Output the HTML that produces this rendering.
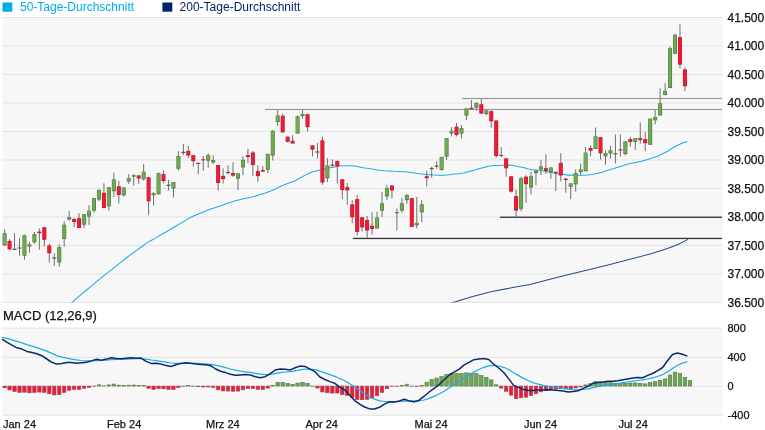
<!DOCTYPE html><html><head><meta charset="utf-8"><style>html,body{margin:0;padding:0;background:#fff;width:765px;height:430px;overflow:hidden}svg{display:block}text{font-family:"Liberation Sans",sans-serif;stroke:currentColor;stroke-width:0}svg{will-change:transform}</style></head><body>
<svg width="765" height="430" viewBox="0 0 765 430">
<defs><clipPath id="cm"><rect x="2" y="17" width="720" height="285.5"/></clipPath><clipPath id="cd"><rect x="2" y="328" width="720" height="87.5"/></clipPath></defs>
<rect x="2.5" y="2.5" width="9.8" height="9.2" fill="#00abea"/>
<text x="20" y="10.8" font-size="12" fill="#00abea">50-Tage-Durchschnitt</text>
<rect x="162.4" y="2.5" width="9.9" height="9.2" fill="#002468"/>
<text x="179.6" y="10.8" font-size="12" fill="#002468">200-Tage-Durchschnitt</text>
<rect x="2.4" y="17" width="720.2" height="285.5" fill="#f7f7f7"/>
<rect x="2.4" y="16.90" width="720.2" height="1.1" fill="#e4e4e4"/>
<text x="727.5" y="21.80" font-size="12" fill="#111" style="stroke:#111;stroke-width:0.25">41.500</text>
<rect x="2.4" y="45.40" width="720.2" height="1.1" fill="#e4e4e4"/>
<text x="727.5" y="50.30" font-size="12" fill="#111" style="stroke:#111;stroke-width:0.25">41.000</text>
<rect x="2.4" y="73.90" width="720.2" height="1.1" fill="#e4e4e4"/>
<text x="727.5" y="78.80" font-size="12" fill="#111" style="stroke:#111;stroke-width:0.25">40.500</text>
<rect x="2.4" y="102.40" width="720.2" height="1.1" fill="#e4e4e4"/>
<text x="727.5" y="107.30" font-size="12" fill="#111" style="stroke:#111;stroke-width:0.25">40.000</text>
<rect x="2.4" y="130.90" width="720.2" height="1.1" fill="#e4e4e4"/>
<text x="727.5" y="135.80" font-size="12" fill="#111" style="stroke:#111;stroke-width:0.25">39.500</text>
<rect x="2.4" y="159.40" width="720.2" height="1.1" fill="#e4e4e4"/>
<text x="727.5" y="164.30" font-size="12" fill="#111" style="stroke:#111;stroke-width:0.25">39.000</text>
<rect x="2.4" y="187.90" width="720.2" height="1.1" fill="#e4e4e4"/>
<text x="727.5" y="192.80" font-size="12" fill="#111" style="stroke:#111;stroke-width:0.25">38.500</text>
<rect x="2.4" y="216.40" width="720.2" height="1.1" fill="#e4e4e4"/>
<text x="727.5" y="221.30" font-size="12" fill="#111" style="stroke:#111;stroke-width:0.25">38.000</text>
<rect x="2.4" y="244.90" width="720.2" height="1.1" fill="#e4e4e4"/>
<text x="727.5" y="249.80" font-size="12" fill="#111" style="stroke:#111;stroke-width:0.25">37.500</text>
<rect x="2.4" y="273.40" width="720.2" height="1.1" fill="#e4e4e4"/>
<text x="727.5" y="278.30" font-size="12" fill="#111" style="stroke:#111;stroke-width:0.25">37.000</text>
<rect x="2.4" y="301.90" width="720.2" height="1.1" fill="#e4e4e4"/>
<text x="727.5" y="306.80" font-size="12" fill="#111" style="stroke:#111;stroke-width:0.25">36.500</text>
<g clip-path="url(#cm)">
<rect x="265" y="108.9" width="457" height="1.2" fill="#9a9a9a"/>
<rect x="462" y="97.9" width="260" height="1.2" fill="#9a9a9a"/>
<rect x="353" y="237.8" width="369" height="1.3" fill="#333"/>
<rect x="500" y="216.6" width="222" height="1.3" fill="#333"/>
<polyline fill="none" stroke="#1aaee5" stroke-width="1.05" points="60.0,312.5 61.7,311.0 66.7,306.8 71.7,302.6 76.6,298.4 81.6,294.2 86.6,290.0 91.5,285.8 96.5,281.7 101.5,277.7 106.4,273.7 111.4,269.8 116.4,265.9 121.3,261.9 126.3,258.0 131.2,254.2 136.2,250.6 141.2,247.0 146.1,243.4 151.1,240.5 156.1,237.6 161.0,234.8 166.0,232.0 171.0,229.0 175.9,226.0 180.9,223.1 185.9,220.1 190.8,217.2 195.8,215.1 200.8,213.1 205.7,211.1 210.7,209.1 215.7,207.4 220.6,205.7 225.6,203.9 230.6,202.2 235.5,200.8 240.5,199.5 245.5,198.2 250.4,197.4 255.4,196.0 260.4,194.6 265.3,193.0 270.3,191.2 275.3,189.1 280.2,186.5 285.2,184.5 290.2,182.6 295.1,180.7 300.1,178.0 305.1,175.1 310.0,172.7 315.0,171.2 320.0,169.9 324.9,169.1 329.9,167.8 334.9,166.9 339.8,166.0 344.8,165.8 349.8,165.8 354.7,166.0 359.7,166.9 364.7,167.9 369.6,168.6 374.6,169.4 379.6,170.2 384.5,170.7 389.5,170.9 394.4,171.3 399.4,171.5 404.4,171.7 409.3,172.2 414.3,173.1 419.3,173.8 424.2,174.3 429.2,174.7 434.2,175.0 439.1,175.3 444.1,175.2 449.1,174.7 454.0,174.1 459.0,173.7 464.0,173.0 468.9,171.6 473.9,170.2 478.9,168.8 483.8,167.5 488.8,166.3 493.8,165.5 498.7,165.5 503.7,165.3 508.7,165.1 513.6,165.5 518.6,166.7 523.6,167.6 528.5,169.0 533.5,169.9 538.5,170.5 543.4,170.9 548.4,172.0 553.4,173.1 558.3,174.0 563.3,174.5 568.3,175.1 573.2,175.1 578.2,175.2 583.2,175.3 588.1,175.0 593.1,174.3 598.1,173.2 603.0,171.9 608.0,170.3 613.0,168.8 617.9,167.2 622.9,165.7 627.9,164.1 632.8,162.9 637.8,161.9 642.7,160.9 647.7,159.5 652.7,157.8 657.6,156.3 662.6,153.8 667.6,151.2 672.5,148.0 677.5,145.2 682.5,143.1 687.4,141.5"/>
<polyline fill="none" stroke="#2b4a8a" stroke-width="1.05" points="440.0,306.2 453.1,302.6 470.9,296.9 491.8,291.6 512.7,287.6 530.0,284.4 550.9,279.0 571.8,273.8 592.7,268.8 610.0,264.6 630.9,259.1 651.8,253.6 667.5,248.6 678.0,244.4 687.9,239.4"/>
<rect x="4.10" y="229.1" width="1" height="16.4" fill="#707070"/>
<rect x="2.60" y="233.20" width="4" height="12.30" fill="#4f7440"/>
<rect x="3.00" y="233.60" width="3.0" height="11.10" fill="#6eaa50"/>
<rect x="9.07" y="239.2" width="1" height="11.2" fill="#707070"/>
<rect x="7.57" y="240.90" width="4" height="8.40" fill="#b81a32"/>
<rect x="7.97" y="241.30" width="3.0" height="7.20" fill="#f01a35"/>
<rect x="14.03" y="233.2" width="1" height="16.4" fill="#707070"/>
<rect x="12.53" y="248.8" width="4" height="1.2" fill="#555"/>
<rect x="19.00" y="238.1" width="1" height="17.5" fill="#707070"/>
<rect x="17.50" y="247.50" width="4" height="1.10" fill="#4f7440"/>
<rect x="17.90" y="247.90" width="3.0" height="0.30" fill="#6eaa50"/>
<rect x="23.96" y="234.6" width="1" height="25.1" fill="#707070"/>
<rect x="22.46" y="235.30" width="4" height="20.30" fill="#4f7440"/>
<rect x="22.86" y="235.70" width="3.0" height="19.10" fill="#6eaa50"/>
<rect x="28.93" y="242.3" width="1" height="10.5" fill="#707070"/>
<rect x="27.43" y="244.40" width="4" height="2.10" fill="#4f7440"/>
<rect x="27.83" y="244.80" width="3.0" height="0.90" fill="#6eaa50"/>
<rect x="33.90" y="231.9" width="1" height="11.8" fill="#707070"/>
<rect x="32.40" y="234.20" width="4" height="8.10" fill="#4f7440"/>
<rect x="32.80" y="234.60" width="3.0" height="6.90" fill="#6eaa50"/>
<rect x="38.86" y="228.4" width="1" height="21.2" fill="#707070"/>
<rect x="37.36" y="231.60" width="4" height="1.60" fill="#b81a32"/>
<rect x="37.76" y="232.00" width="3.0" height="0.40" fill="#f01a35"/>
<rect x="43.83" y="227.0" width="1" height="19.5" fill="#707070"/>
<rect x="42.33" y="227.30" width="4" height="12.50" fill="#b81a32"/>
<rect x="42.73" y="227.70" width="3.0" height="11.30" fill="#f01a35"/>
<rect x="48.79" y="243.7" width="1" height="18.8" fill="#707070"/>
<rect x="47.29" y="245.50" width="4" height="7.70" fill="#b81a32"/>
<rect x="47.69" y="245.90" width="3.0" height="6.50" fill="#f01a35"/>
<rect x="53.76" y="253.2" width="1" height="12.8" fill="#707070"/>
<rect x="52.26" y="257.5" width="4" height="1.2" fill="#555"/>
<rect x="58.73" y="244.4" width="1" height="22.3" fill="#707070"/>
<rect x="57.23" y="247.20" width="4" height="15.30" fill="#4f7440"/>
<rect x="57.63" y="247.60" width="3.0" height="14.10" fill="#6eaa50"/>
<rect x="63.69" y="221.5" width="1" height="25.2" fill="#707070"/>
<rect x="62.19" y="224.70" width="4" height="14.20" fill="#4f7440"/>
<rect x="62.59" y="225.10" width="3.0" height="13.00" fill="#6eaa50"/>
<rect x="68.66" y="210.9" width="1" height="9.8" fill="#707070"/>
<rect x="67.16" y="217.10" width="4" height="2.40" fill="#4f7440"/>
<rect x="67.56" y="217.50" width="3.0" height="1.20" fill="#6eaa50"/>
<rect x="73.62" y="218.2" width="1" height="9.0" fill="#707070"/>
<rect x="72.12" y="219.00" width="4" height="3.00" fill="#b81a32"/>
<rect x="72.52" y="219.40" width="3.0" height="1.80" fill="#f01a35"/>
<rect x="78.59" y="213.3" width="1" height="14.7" fill="#707070"/>
<rect x="77.09" y="218.20" width="4" height="9.80" fill="#b81a32"/>
<rect x="77.49" y="218.60" width="3.0" height="8.60" fill="#f01a35"/>
<rect x="83.56" y="214.1" width="1" height="13.9" fill="#707070"/>
<rect x="82.06" y="214.10" width="4" height="10.60" fill="#4f7440"/>
<rect x="82.46" y="214.50" width="3.0" height="9.40" fill="#6eaa50"/>
<rect x="88.52" y="205.2" width="1" height="19.8" fill="#707070"/>
<rect x="87.02" y="210.60" width="4" height="6.00" fill="#4f7440"/>
<rect x="87.42" y="211.00" width="3.0" height="4.80" fill="#6eaa50"/>
<rect x="93.49" y="197.9" width="1" height="14.6" fill="#707070"/>
<rect x="91.99" y="198.20" width="4" height="12.40" fill="#4f7440"/>
<rect x="92.39" y="198.60" width="3.0" height="11.20" fill="#6eaa50"/>
<rect x="98.45" y="188.9" width="1" height="12.2" fill="#707070"/>
<rect x="96.95" y="190.10" width="4" height="9.40" fill="#4f7440"/>
<rect x="97.35" y="190.50" width="3.0" height="8.20" fill="#6eaa50"/>
<rect x="103.42" y="183.3" width="1" height="25.2" fill="#707070"/>
<rect x="101.92" y="192.70" width="4" height="15.30" fill="#b81a32"/>
<rect x="102.32" y="193.10" width="3.0" height="14.10" fill="#f01a35"/>
<rect x="108.39" y="186.8" width="1" height="23.8" fill="#707070"/>
<rect x="106.89" y="187.30" width="4" height="19.00" fill="#4f7440"/>
<rect x="107.29" y="187.70" width="3.0" height="17.80" fill="#6eaa50"/>
<rect x="113.35" y="172.5" width="1" height="24.4" fill="#707070"/>
<rect x="111.85" y="179.50" width="4" height="11.70" fill="#4f7440"/>
<rect x="112.25" y="179.90" width="3.0" height="10.50" fill="#6eaa50"/>
<rect x="118.32" y="180.8" width="1" height="22.7" fill="#707070"/>
<rect x="116.82" y="186.30" width="4" height="8.70" fill="#b81a32"/>
<rect x="117.22" y="186.70" width="3.0" height="7.50" fill="#f01a35"/>
<rect x="123.28" y="187.5" width="1" height="9.1" fill="#707070"/>
<rect x="121.78" y="187.50" width="4" height="7.80" fill="#4f7440"/>
<rect x="122.18" y="187.90" width="3.0" height="6.60" fill="#6eaa50"/>
<rect x="128.25" y="174.1" width="1" height="9.8" fill="#707070"/>
<rect x="126.75" y="178.20" width="4" height="3.30" fill="#4f7440"/>
<rect x="127.15" y="178.60" width="3.0" height="2.10" fill="#6eaa50"/>
<rect x="133.22" y="174.1" width="1" height="11.4" fill="#707070"/>
<rect x="131.72" y="175.30" width="4" height="1.30" fill="#4f7440"/>
<rect x="132.12" y="175.70" width="3.0" height="0.30" fill="#6eaa50"/>
<rect x="138.18" y="175.4" width="1" height="8.5" fill="#707070"/>
<rect x="136.68" y="175.40" width="4" height="3.10" fill="#b81a32"/>
<rect x="137.08" y="175.80" width="3.0" height="1.90" fill="#f01a35"/>
<rect x="143.15" y="164.1" width="1" height="16.4" fill="#707070"/>
<rect x="141.65" y="171.70" width="4" height="7.60" fill="#4f7440"/>
<rect x="142.05" y="172.10" width="3.0" height="6.40" fill="#6eaa50"/>
<rect x="148.11" y="177.1" width="1" height="37.7" fill="#707070"/>
<rect x="146.61" y="177.30" width="4" height="24.00" fill="#b81a32"/>
<rect x="147.01" y="177.70" width="3.0" height="22.80" fill="#f01a35"/>
<rect x="153.08" y="192.1" width="1" height="13.4" fill="#707070"/>
<rect x="151.58" y="193.30" width="4" height="2.00" fill="#4f7440"/>
<rect x="151.98" y="193.70" width="3.0" height="0.80" fill="#6eaa50"/>
<rect x="158.05" y="172.5" width="1" height="22.0" fill="#707070"/>
<rect x="156.55" y="173.10" width="4" height="21.10" fill="#4f7440"/>
<rect x="156.95" y="173.50" width="3.0" height="19.90" fill="#6eaa50"/>
<rect x="163.01" y="170.1" width="1" height="13.2" fill="#707070"/>
<rect x="161.51" y="174.10" width="4" height="6.90" fill="#b81a32"/>
<rect x="161.91" y="174.50" width="3.0" height="5.70" fill="#f01a35"/>
<rect x="167.98" y="179.8" width="1" height="10.6" fill="#707070"/>
<rect x="166.48" y="184.7" width="4" height="1.2" fill="#555"/>
<rect x="172.94" y="182.0" width="1" height="15.5" fill="#707070"/>
<rect x="171.44" y="182.00" width="4" height="6.50" fill="#4f7440"/>
<rect x="171.84" y="182.40" width="3.0" height="5.30" fill="#6eaa50"/>
<rect x="177.91" y="151.1" width="1" height="19.6" fill="#707070"/>
<rect x="176.41" y="156.00" width="4" height="12.70" fill="#4f7440"/>
<rect x="176.81" y="156.40" width="3.0" height="11.50" fill="#6eaa50"/>
<rect x="182.88" y="143.8" width="1" height="11.4" fill="#707070"/>
<rect x="181.38" y="151.8" width="4" height="1.2" fill="#555"/>
<rect x="187.84" y="145.9" width="1" height="12.1" fill="#707070"/>
<rect x="186.34" y="150.80" width="4" height="4.70" fill="#b81a32"/>
<rect x="186.74" y="151.20" width="3.0" height="3.50" fill="#f01a35"/>
<rect x="192.81" y="155.2" width="1" height="11.4" fill="#707070"/>
<rect x="191.31" y="155.20" width="4" height="6.00" fill="#b81a32"/>
<rect x="191.71" y="155.60" width="3.0" height="4.80" fill="#f01a35"/>
<rect x="197.77" y="162.5" width="1" height="11.7" fill="#707070"/>
<rect x="196.27" y="162.8" width="4" height="1.2" fill="#555"/>
<rect x="202.74" y="156.0" width="1" height="14.7" fill="#707070"/>
<rect x="201.24" y="159.30" width="4" height="1.00" fill="#b81a32"/>
<rect x="201.64" y="159.70" width="3.0" height="0.30" fill="#f01a35"/>
<rect x="207.71" y="153.3" width="1" height="14.4" fill="#707070"/>
<rect x="206.21" y="155.20" width="4" height="5.40" fill="#4f7440"/>
<rect x="206.61" y="155.60" width="3.0" height="4.20" fill="#6eaa50"/>
<rect x="212.67" y="155.2" width="1" height="8.9" fill="#707070"/>
<rect x="211.17" y="160.10" width="4" height="2.40" fill="#4f7440"/>
<rect x="211.57" y="160.50" width="3.0" height="1.20" fill="#6eaa50"/>
<rect x="217.64" y="165.0" width="1" height="25.5" fill="#707070"/>
<rect x="216.14" y="165.00" width="4" height="18.00" fill="#b81a32"/>
<rect x="216.54" y="165.40" width="3.0" height="16.80" fill="#f01a35"/>
<rect x="222.60" y="168.5" width="1" height="15.1" fill="#707070"/>
<rect x="221.10" y="175.90" width="4" height="3.20" fill="#b81a32"/>
<rect x="221.50" y="176.30" width="3.0" height="2.00" fill="#f01a35"/>
<rect x="227.57" y="165.5" width="1" height="8.8" fill="#707070"/>
<rect x="226.07" y="171.9" width="4" height="1.2" fill="#555"/>
<rect x="232.54" y="162.2" width="1" height="14.5" fill="#707070"/>
<rect x="231.04" y="173.00" width="4" height="2.60" fill="#b81a32"/>
<rect x="231.44" y="173.40" width="3.0" height="1.40" fill="#f01a35"/>
<rect x="237.50" y="173.4" width="1" height="16.6" fill="#707070"/>
<rect x="236.00" y="173.40" width="4" height="5.20" fill="#4f7440"/>
<rect x="236.40" y="173.80" width="3.0" height="4.00" fill="#6eaa50"/>
<rect x="242.47" y="156.2" width="1" height="19.0" fill="#707070"/>
<rect x="240.97" y="159.90" width="4" height="7.50" fill="#4f7440"/>
<rect x="241.37" y="160.30" width="3.0" height="6.30" fill="#6eaa50"/>
<rect x="247.43" y="148.8" width="1" height="14.3" fill="#707070"/>
<rect x="245.93" y="155.10" width="4" height="1.90" fill="#b81a32"/>
<rect x="246.33" y="155.50" width="3.0" height="0.70" fill="#f01a35"/>
<rect x="252.40" y="151.0" width="1" height="25.1" fill="#707070"/>
<rect x="250.90" y="152.50" width="4" height="12.50" fill="#b81a32"/>
<rect x="251.30" y="152.90" width="3.0" height="11.30" fill="#f01a35"/>
<rect x="257.37" y="165.0" width="1" height="16.7" fill="#707070"/>
<rect x="255.87" y="171.10" width="4" height="5.00" fill="#b81a32"/>
<rect x="256.27" y="171.50" width="3.0" height="3.80" fill="#f01a35"/>
<rect x="262.33" y="165.9" width="1" height="6.1" fill="#707070"/>
<rect x="260.83" y="170.00" width="4" height="1.50" fill="#b81a32"/>
<rect x="261.23" y="170.40" width="3.0" height="0.30" fill="#f01a35"/>
<rect x="267.30" y="153.8" width="1" height="19.2" fill="#707070"/>
<rect x="265.80" y="153.80" width="4" height="15.80" fill="#4f7440"/>
<rect x="266.20" y="154.20" width="3.0" height="14.60" fill="#6eaa50"/>
<rect x="272.26" y="130.1" width="1" height="30.4" fill="#707070"/>
<rect x="270.76" y="130.80" width="4" height="24.70" fill="#4f7440"/>
<rect x="271.16" y="131.20" width="3.0" height="23.50" fill="#6eaa50"/>
<rect x="277.23" y="110.0" width="1" height="16.1" fill="#707070"/>
<rect x="275.73" y="115.50" width="4" height="6.50" fill="#4f7440"/>
<rect x="276.13" y="115.90" width="3.0" height="5.30" fill="#6eaa50"/>
<rect x="282.20" y="113.6" width="1" height="18.8" fill="#707070"/>
<rect x="280.70" y="115.70" width="4" height="16.70" fill="#b81a32"/>
<rect x="281.10" y="116.10" width="3.0" height="15.50" fill="#f01a35"/>
<rect x="287.16" y="136.6" width="1" height="5.8" fill="#707070"/>
<rect x="285.66" y="136.60" width="4" height="5.20" fill="#b81a32"/>
<rect x="286.06" y="137.00" width="3.0" height="4.00" fill="#f01a35"/>
<rect x="292.13" y="135.1" width="1" height="8.4" fill="#707070"/>
<rect x="290.63" y="140.80" width="4" height="2.70" fill="#b81a32"/>
<rect x="291.03" y="141.20" width="3.0" height="1.50" fill="#f01a35"/>
<rect x="297.09" y="115.7" width="1" height="17.8" fill="#707070"/>
<rect x="295.59" y="116.30" width="4" height="17.20" fill="#4f7440"/>
<rect x="295.99" y="116.70" width="3.0" height="16.00" fill="#6eaa50"/>
<rect x="302.06" y="110.0" width="1" height="8.8" fill="#707070"/>
<rect x="300.56" y="114.00" width="4" height="2.10" fill="#4f7440"/>
<rect x="300.96" y="114.40" width="3.0" height="0.90" fill="#6eaa50"/>
<rect x="307.03" y="114.2" width="1" height="17.2" fill="#707070"/>
<rect x="305.53" y="114.20" width="4" height="13.00" fill="#b81a32"/>
<rect x="305.93" y="114.60" width="3.0" height="11.80" fill="#f01a35"/>
<rect x="311.99" y="145.4" width="1" height="11.0" fill="#707070"/>
<rect x="310.49" y="145.40" width="4" height="4.20" fill="#b81a32"/>
<rect x="310.89" y="145.80" width="3.0" height="3.00" fill="#f01a35"/>
<rect x="316.96" y="142.9" width="1" height="15.6" fill="#707070"/>
<rect x="315.46" y="151.4" width="4" height="1.2" fill="#555"/>
<rect x="321.92" y="136.6" width="1" height="48.1" fill="#707070"/>
<rect x="320.42" y="140.40" width="4" height="42.10" fill="#b81a32"/>
<rect x="320.82" y="140.80" width="3.0" height="40.90" fill="#f01a35"/>
<rect x="326.89" y="158.3" width="1" height="23.7" fill="#707070"/>
<rect x="325.39" y="165.50" width="4" height="12.80" fill="#4f7440"/>
<rect x="325.79" y="165.90" width="3.0" height="11.60" fill="#6eaa50"/>
<rect x="331.86" y="159.4" width="1" height="7.3" fill="#707070"/>
<rect x="330.36" y="164.60" width="4" height="1.10" fill="#b81a32"/>
<rect x="330.76" y="165.00" width="3.0" height="0.30" fill="#f01a35"/>
<rect x="336.82" y="160.9" width="1" height="22.6" fill="#707070"/>
<rect x="335.32" y="160.90" width="4" height="5.40" fill="#b81a32"/>
<rect x="335.72" y="161.30" width="3.0" height="4.20" fill="#f01a35"/>
<rect x="341.79" y="179.3" width="1" height="19.8" fill="#707070"/>
<rect x="340.29" y="179.30" width="4" height="10.80" fill="#b81a32"/>
<rect x="340.69" y="179.70" width="3.0" height="9.60" fill="#f01a35"/>
<rect x="346.75" y="183.0" width="1" height="21.8" fill="#707070"/>
<rect x="345.25" y="187.20" width="4" height="3.20" fill="#b81a32"/>
<rect x="345.65" y="187.60" width="3.0" height="2.00" fill="#f01a35"/>
<rect x="351.72" y="200.2" width="1" height="23.0" fill="#707070"/>
<rect x="350.22" y="204.40" width="4" height="12.90" fill="#b81a32"/>
<rect x="350.62" y="204.80" width="3.0" height="11.70" fill="#f01a35"/>
<rect x="356.69" y="195.0" width="1" height="40.7" fill="#707070"/>
<rect x="355.19" y="199.10" width="4" height="32.90" fill="#b81a32"/>
<rect x="355.59" y="199.50" width="3.0" height="31.70" fill="#f01a35"/>
<rect x="361.65" y="217.3" width="1" height="14.2" fill="#707070"/>
<rect x="360.15" y="217.30" width="4" height="10.10" fill="#b81a32"/>
<rect x="360.55" y="217.70" width="3.0" height="8.90" fill="#f01a35"/>
<rect x="366.62" y="215.9" width="1" height="21.9" fill="#707070"/>
<rect x="365.12" y="220.00" width="4" height="10.50" fill="#b81a32"/>
<rect x="365.52" y="220.40" width="3.0" height="9.30" fill="#f01a35"/>
<rect x="371.58" y="212.3" width="1" height="22.4" fill="#707070"/>
<rect x="370.08" y="225.70" width="4" height="3.30" fill="#b81a32"/>
<rect x="370.48" y="226.10" width="3.0" height="2.10" fill="#f01a35"/>
<rect x="376.55" y="211.7" width="1" height="16.7" fill="#707070"/>
<rect x="375.05" y="217.50" width="4" height="10.90" fill="#4f7440"/>
<rect x="375.45" y="217.90" width="3.0" height="9.70" fill="#6eaa50"/>
<rect x="381.52" y="191.8" width="1" height="25.1" fill="#707070"/>
<rect x="380.02" y="203.30" width="4" height="7.30" fill="#4f7440"/>
<rect x="380.42" y="203.70" width="3.0" height="6.10" fill="#6eaa50"/>
<rect x="386.48" y="185.1" width="1" height="14.7" fill="#707070"/>
<rect x="384.98" y="188.00" width="4" height="8.40" fill="#4f7440"/>
<rect x="385.38" y="188.40" width="3.0" height="7.20" fill="#6eaa50"/>
<rect x="391.45" y="185.5" width="1" height="13.0" fill="#707070"/>
<rect x="389.95" y="185.50" width="4" height="4.90" fill="#b81a32"/>
<rect x="390.35" y="185.90" width="3.0" height="3.70" fill="#f01a35"/>
<rect x="396.41" y="208.5" width="1" height="22.0" fill="#707070"/>
<rect x="394.91" y="212.10" width="4" height="1.20" fill="#4f7440"/>
<rect x="395.31" y="212.50" width="3.0" height="0.30" fill="#6eaa50"/>
<rect x="401.38" y="198.1" width="1" height="14.6" fill="#707070"/>
<rect x="399.88" y="203.30" width="4" height="7.30" fill="#4f7440"/>
<rect x="400.28" y="203.70" width="3.0" height="6.10" fill="#6eaa50"/>
<rect x="406.35" y="193.9" width="1" height="10.0" fill="#707070"/>
<rect x="404.85" y="195.00" width="4" height="5.20" fill="#4f7440"/>
<rect x="405.25" y="195.40" width="3.0" height="4.00" fill="#6eaa50"/>
<rect x="411.31" y="198.1" width="1" height="28.8" fill="#707070"/>
<rect x="409.81" y="198.10" width="4" height="28.80" fill="#b81a32"/>
<rect x="410.21" y="198.50" width="3.0" height="27.60" fill="#f01a35"/>
<rect x="416.28" y="197.0" width="1" height="31.4" fill="#707070"/>
<rect x="414.78" y="222.80" width="4" height="2.50" fill="#4f7440"/>
<rect x="415.18" y="223.20" width="3.0" height="1.30" fill="#6eaa50"/>
<rect x="421.24" y="200.2" width="1" height="21.9" fill="#707070"/>
<rect x="419.74" y="204.40" width="4" height="7.90" fill="#4f7440"/>
<rect x="420.14" y="204.80" width="3.0" height="6.70" fill="#6eaa50"/>
<rect x="426.21" y="170.9" width="1" height="15.7" fill="#707070"/>
<rect x="424.71" y="176.30" width="4" height="1.90" fill="#b81a32"/>
<rect x="425.11" y="176.70" width="3.0" height="0.70" fill="#f01a35"/>
<rect x="431.18" y="166.7" width="1" height="11.0" fill="#707070"/>
<rect x="429.68" y="167.9" width="4" height="1.2" fill="#555"/>
<rect x="436.14" y="161.2" width="1" height="7.5" fill="#707070"/>
<rect x="434.64" y="165.60" width="4" height="1.00" fill="#b81a32"/>
<rect x="435.04" y="166.00" width="3.0" height="0.30" fill="#f01a35"/>
<rect x="441.11" y="156.9" width="1" height="13.6" fill="#707070"/>
<rect x="439.61" y="156.90" width="4" height="13.00" fill="#4f7440"/>
<rect x="440.01" y="157.30" width="3.0" height="11.80" fill="#6eaa50"/>
<rect x="446.07" y="138.1" width="1" height="21.9" fill="#707070"/>
<rect x="444.57" y="138.10" width="4" height="18.40" fill="#4f7440"/>
<rect x="444.97" y="138.50" width="3.0" height="17.20" fill="#6eaa50"/>
<rect x="451.04" y="127.2" width="1" height="9.2" fill="#707070"/>
<rect x="449.54" y="130.80" width="4" height="2.70" fill="#4f7440"/>
<rect x="449.94" y="131.20" width="3.0" height="1.50" fill="#6eaa50"/>
<rect x="456.01" y="123.0" width="1" height="13.4" fill="#707070"/>
<rect x="454.51" y="126.60" width="4" height="8.40" fill="#b81a32"/>
<rect x="454.91" y="127.00" width="3.0" height="7.20" fill="#f01a35"/>
<rect x="460.97" y="125.1" width="1" height="13.4" fill="#707070"/>
<rect x="459.47" y="128.10" width="4" height="5.40" fill="#4f7440"/>
<rect x="459.87" y="128.50" width="3.0" height="4.20" fill="#6eaa50"/>
<rect x="465.94" y="108.4" width="1" height="11.9" fill="#707070"/>
<rect x="464.44" y="108.40" width="4" height="7.10" fill="#4f7440"/>
<rect x="464.84" y="108.80" width="3.0" height="5.90" fill="#6eaa50"/>
<rect x="470.90" y="100.0" width="1" height="9.5" fill="#707070"/>
<rect x="469.40" y="107.80" width="4" height="1.40" fill="#b81a32"/>
<rect x="469.80" y="108.20" width="3.0" height="0.30" fill="#f01a35"/>
<rect x="475.87" y="102.1" width="1" height="8.1" fill="#707070"/>
<rect x="474.37" y="102.90" width="4" height="4.80" fill="#4f7440"/>
<rect x="474.77" y="103.30" width="3.0" height="3.60" fill="#6eaa50"/>
<rect x="480.84" y="98.9" width="1" height="15.3" fill="#707070"/>
<rect x="479.34" y="104.30" width="4" height="9.20" fill="#b81a32"/>
<rect x="479.74" y="104.70" width="3.0" height="8.00" fill="#f01a35"/>
<rect x="485.80" y="110.4" width="1" height="4.8" fill="#707070"/>
<rect x="484.30" y="110.40" width="4" height="3.70" fill="#4f7440"/>
<rect x="484.70" y="110.80" width="3.0" height="2.50" fill="#6eaa50"/>
<rect x="490.77" y="110.4" width="1" height="17.4" fill="#707070"/>
<rect x="489.27" y="111.20" width="4" height="10.10" fill="#b81a32"/>
<rect x="489.67" y="111.60" width="3.0" height="8.90" fill="#f01a35"/>
<rect x="495.73" y="120.5" width="1" height="37.1" fill="#707070"/>
<rect x="494.23" y="120.50" width="4" height="35.50" fill="#b81a32"/>
<rect x="494.63" y="120.90" width="3.0" height="34.30" fill="#f01a35"/>
<rect x="500.70" y="147.2" width="1" height="9.8" fill="#707070"/>
<rect x="499.20" y="154.90" width="4" height="1.00" fill="#b81a32"/>
<rect x="499.60" y="155.30" width="3.0" height="0.30" fill="#f01a35"/>
<rect x="505.67" y="158.4" width="1" height="18.3" fill="#707070"/>
<rect x="504.17" y="158.40" width="4" height="9.90" fill="#b81a32"/>
<rect x="504.57" y="158.80" width="3.0" height="8.70" fill="#f01a35"/>
<rect x="510.63" y="176.3" width="1" height="16.2" fill="#707070"/>
<rect x="509.13" y="176.30" width="4" height="15.30" fill="#b81a32"/>
<rect x="509.53" y="176.70" width="3.0" height="14.10" fill="#f01a35"/>
<rect x="515.60" y="189.7" width="1" height="27.0" fill="#707070"/>
<rect x="514.10" y="196.20" width="4" height="14.40" fill="#b81a32"/>
<rect x="514.50" y="196.60" width="3.0" height="13.20" fill="#f01a35"/>
<rect x="520.56" y="176.7" width="1" height="34.4" fill="#707070"/>
<rect x="519.06" y="178.20" width="4" height="30.50" fill="#4f7440"/>
<rect x="519.46" y="178.60" width="3.0" height="29.30" fill="#6eaa50"/>
<rect x="525.53" y="175.2" width="1" height="27.6" fill="#707070"/>
<rect x="524.03" y="176.70" width="4" height="7.40" fill="#b81a32"/>
<rect x="524.43" y="177.10" width="3.0" height="6.20" fill="#f01a35"/>
<rect x="530.50" y="172.0" width="1" height="22.4" fill="#707070"/>
<rect x="529.00" y="176.30" width="4" height="11.20" fill="#4f7440"/>
<rect x="529.40" y="176.70" width="3.0" height="10.00" fill="#6eaa50"/>
<rect x="535.46" y="169.2" width="1" height="15.9" fill="#707070"/>
<rect x="533.96" y="171.10" width="4" height="1.90" fill="#4f7440"/>
<rect x="534.36" y="171.50" width="3.0" height="0.70" fill="#6eaa50"/>
<rect x="540.43" y="159.9" width="1" height="14.9" fill="#707070"/>
<rect x="538.93" y="166.40" width="4" height="3.20" fill="#4f7440"/>
<rect x="539.33" y="166.80" width="3.0" height="2.00" fill="#6eaa50"/>
<rect x="545.39" y="154.2" width="1" height="19.7" fill="#707070"/>
<rect x="543.89" y="168.20" width="4" height="2.70" fill="#b81a32"/>
<rect x="544.29" y="168.60" width="3.0" height="1.50" fill="#f01a35"/>
<rect x="550.36" y="167.5" width="1" height="11.2" fill="#707070"/>
<rect x="548.86" y="167.50" width="4" height="4.70" fill="#4f7440"/>
<rect x="549.26" y="167.90" width="3.0" height="3.50" fill="#6eaa50"/>
<rect x="555.33" y="171.8" width="1" height="19.4" fill="#707070"/>
<rect x="553.83" y="171.80" width="4" height="1.30" fill="#b81a32"/>
<rect x="554.23" y="172.20" width="3.0" height="0.30" fill="#f01a35"/>
<rect x="560.29" y="153.2" width="1" height="28.3" fill="#707070"/>
<rect x="558.79" y="162.90" width="4" height="12.60" fill="#b81a32"/>
<rect x="559.19" y="163.30" width="3.0" height="11.40" fill="#f01a35"/>
<rect x="565.26" y="178.0" width="1" height="14.7" fill="#707070"/>
<rect x="563.76" y="178.70" width="4" height="1.30" fill="#b81a32"/>
<rect x="564.16" y="179.10" width="3.0" height="0.30" fill="#f01a35"/>
<rect x="570.22" y="183.4" width="1" height="15.8" fill="#707070"/>
<rect x="568.72" y="183.40" width="4" height="3.30" fill="#4f7440"/>
<rect x="569.12" y="183.80" width="3.0" height="2.10" fill="#6eaa50"/>
<rect x="575.19" y="169.4" width="1" height="22.3" fill="#707070"/>
<rect x="573.69" y="173.10" width="4" height="11.20" fill="#4f7440"/>
<rect x="574.09" y="173.50" width="3.0" height="10.00" fill="#6eaa50"/>
<rect x="580.16" y="163.8" width="1" height="11.2" fill="#707070"/>
<rect x="578.66" y="169.40" width="4" height="2.80" fill="#4f7440"/>
<rect x="579.06" y="169.80" width="3.0" height="1.60" fill="#6eaa50"/>
<rect x="585.12" y="147.0" width="1" height="24.2" fill="#707070"/>
<rect x="583.62" y="152.60" width="4" height="18.60" fill="#4f7440"/>
<rect x="584.02" y="153.00" width="3.0" height="17.40" fill="#6eaa50"/>
<rect x="590.09" y="145.2" width="1" height="11.1" fill="#707070"/>
<rect x="588.59" y="148.00" width="4" height="2.70" fill="#b81a32"/>
<rect x="588.99" y="148.40" width="3.0" height="1.50" fill="#f01a35"/>
<rect x="595.05" y="127.5" width="1" height="21.4" fill="#707070"/>
<rect x="593.55" y="136.40" width="4" height="12.50" fill="#4f7440"/>
<rect x="593.95" y="136.80" width="3.0" height="11.30" fill="#6eaa50"/>
<rect x="600.02" y="137.1" width="1" height="22.5" fill="#707070"/>
<rect x="598.52" y="137.20" width="4" height="16.10" fill="#b81a32"/>
<rect x="598.92" y="137.60" width="3.0" height="14.90" fill="#f01a35"/>
<rect x="604.99" y="150.3" width="1" height="14.5" fill="#707070"/>
<rect x="603.49" y="153.10" width="4" height="3.20" fill="#4f7440"/>
<rect x="603.89" y="153.50" width="3.0" height="2.00" fill="#6eaa50"/>
<rect x="609.95" y="145.6" width="1" height="13.1" fill="#707070"/>
<rect x="608.45" y="150.30" width="4" height="3.20" fill="#4f7440"/>
<rect x="608.85" y="150.70" width="3.0" height="2.00" fill="#6eaa50"/>
<rect x="614.92" y="134.5" width="1" height="28.9" fill="#707070"/>
<rect x="613.42" y="153.10" width="4" height="1.30" fill="#4f7440"/>
<rect x="613.82" y="153.50" width="3.0" height="0.30" fill="#6eaa50"/>
<rect x="619.88" y="134.5" width="1" height="22.3" fill="#707070"/>
<rect x="618.38" y="149.40" width="4" height="1.00" fill="#b81a32"/>
<rect x="618.78" y="149.80" width="3.0" height="0.30" fill="#f01a35"/>
<rect x="624.85" y="141.4" width="1" height="14.1" fill="#707070"/>
<rect x="623.35" y="141.40" width="4" height="12.60" fill="#4f7440"/>
<rect x="623.75" y="141.80" width="3.0" height="11.40" fill="#6eaa50"/>
<rect x="629.82" y="136.9" width="1" height="9.7" fill="#707070"/>
<rect x="628.32" y="139.10" width="4" height="2.80" fill="#b81a32"/>
<rect x="628.72" y="139.50" width="3.0" height="1.60" fill="#f01a35"/>
<rect x="634.78" y="138.2" width="1" height="11.7" fill="#707070"/>
<rect x="633.28" y="138.20" width="4" height="3.70" fill="#4f7440"/>
<rect x="633.68" y="138.60" width="3.0" height="2.50" fill="#6eaa50"/>
<rect x="639.75" y="122.4" width="1" height="21.4" fill="#707070"/>
<rect x="638.25" y="138.20" width="4" height="1.90" fill="#b81a32"/>
<rect x="638.65" y="138.60" width="3.0" height="0.70" fill="#f01a35"/>
<rect x="644.71" y="131.7" width="1" height="19.5" fill="#707070"/>
<rect x="643.21" y="139.10" width="4" height="4.10" fill="#b81a32"/>
<rect x="643.61" y="139.50" width="3.0" height="2.90" fill="#f01a35"/>
<rect x="649.68" y="118.6" width="1" height="26.1" fill="#707070"/>
<rect x="648.18" y="118.60" width="4" height="26.10" fill="#4f7440"/>
<rect x="648.58" y="119.00" width="3.0" height="24.90" fill="#6eaa50"/>
<rect x="654.65" y="109.7" width="1" height="14.6" fill="#707070"/>
<rect x="653.15" y="117.00" width="4" height="3.30" fill="#4f7440"/>
<rect x="653.55" y="117.40" width="3.0" height="2.10" fill="#6eaa50"/>
<rect x="659.61" y="88.4" width="1" height="27.0" fill="#707070"/>
<rect x="658.11" y="103.20" width="4" height="12.20" fill="#4f7440"/>
<rect x="658.51" y="103.60" width="3.0" height="11.00" fill="#6eaa50"/>
<rect x="664.58" y="83.3" width="1" height="11.8" fill="#707070"/>
<rect x="663.08" y="90.80" width="4" height="4.30" fill="#4f7440"/>
<rect x="663.48" y="91.20" width="3.0" height="3.10" fill="#6eaa50"/>
<rect x="669.54" y="46.7" width="1" height="41.2" fill="#707070"/>
<rect x="668.04" y="48.30" width="4" height="39.60" fill="#4f7440"/>
<rect x="668.44" y="48.70" width="3.0" height="38.40" fill="#6eaa50"/>
<rect x="674.51" y="33.8" width="1" height="19.9" fill="#707070"/>
<rect x="673.01" y="34.80" width="4" height="18.90" fill="#4f7440"/>
<rect x="673.41" y="35.20" width="3.0" height="17.70" fill="#6eaa50"/>
<rect x="679.48" y="24.4" width="1" height="44.2" fill="#707070"/>
<rect x="677.98" y="37.20" width="4" height="27.40" fill="#b81a32"/>
<rect x="678.38" y="37.60" width="3.0" height="26.20" fill="#f01a35"/>
<rect x="684.44" y="67.5" width="1" height="23.9" fill="#707070"/>
<rect x="682.94" y="69.50" width="4" height="16.70" fill="#b81a32"/>
<rect x="683.34" y="69.90" width="3.0" height="15.50" fill="#f01a35"/>
</g>
<text x="3" y="320.3" font-size="13" fill="#111" style="stroke:#111;stroke-width:0.25">MACD (12,26,9)</text>
<rect x="2.4" y="328" width="720.2" height="87.5" fill="#f7f7f7"/>
<rect x="2.4" y="327.60" width="720.2" height="1.1" fill="#e4e4e4"/>
<text x="727.5" y="332.20" font-size="11" fill="#111" style="stroke:#111;stroke-width:0.25">800</text>
<rect x="2.4" y="356.80" width="720.2" height="1.1" fill="#e4e4e4"/>
<text x="727.5" y="361.40" font-size="11" fill="#111" style="stroke:#111;stroke-width:0.25">400</text>
<rect x="2.4" y="385.80" width="720.2" height="1.1" fill="#e4e4e4"/>
<text x="727.5" y="390.40" font-size="11" fill="#111" style="stroke:#111;stroke-width:0.25">0</text>
<rect x="2.4" y="414.70" width="720.2" height="1.1" fill="#e4e4e4"/>
<text x="727.5" y="419.30" font-size="11" fill="#111" style="stroke:#111;stroke-width:0.25">-400</text>
<g clip-path="url(#cd)">
<rect x="2.85" y="386.07" width="3.5" height="1.77" fill="#f01a35" stroke="#9a5060" stroke-width="0.6"/>
<rect x="7.82" y="386.07" width="3.5" height="3.92" fill="#f01a35" stroke="#9a5060" stroke-width="0.6"/>
<rect x="12.78" y="386.07" width="3.5" height="5.50" fill="#f01a35" stroke="#9a5060" stroke-width="0.6"/>
<rect x="17.75" y="386.07" width="3.5" height="6.47" fill="#f01a35" stroke="#9a5060" stroke-width="0.6"/>
<rect x="22.71" y="386.07" width="3.5" height="6.15" fill="#f01a35" stroke="#9a5060" stroke-width="0.6"/>
<rect x="27.68" y="386.07" width="3.5" height="6.77" fill="#f01a35" stroke="#9a5060" stroke-width="0.6"/>
<rect x="32.65" y="386.07" width="3.5" height="6.34" fill="#f01a35" stroke="#9a5060" stroke-width="0.6"/>
<rect x="37.61" y="386.07" width="3.5" height="6.03" fill="#f01a35" stroke="#9a5060" stroke-width="0.6"/>
<rect x="42.58" y="386.07" width="3.5" height="6.40" fill="#f01a35" stroke="#9a5060" stroke-width="0.6"/>
<rect x="47.54" y="386.07" width="3.5" height="7.73" fill="#f01a35" stroke="#9a5060" stroke-width="0.6"/>
<rect x="52.51" y="386.07" width="3.5" height="8.89" fill="#f01a35" stroke="#9a5060" stroke-width="0.6"/>
<rect x="57.48" y="386.07" width="3.5" height="8.55" fill="#f01a35" stroke="#9a5060" stroke-width="0.6"/>
<rect x="62.44" y="386.07" width="3.5" height="6.32" fill="#f01a35" stroke="#9a5060" stroke-width="0.6"/>
<rect x="67.41" y="386.07" width="3.5" height="4.23" fill="#f01a35" stroke="#9a5060" stroke-width="0.6"/>
<rect x="72.37" y="386.07" width="3.5" height="3.36" fill="#f01a35" stroke="#9a5060" stroke-width="0.6"/>
<rect x="77.34" y="386.07" width="3.5" height="3.37" fill="#f01a35" stroke="#9a5060" stroke-width="0.6"/>
<rect x="82.31" y="386.07" width="3.5" height="2.30" fill="#f01a35" stroke="#9a5060" stroke-width="0.6"/>
<rect x="87.27" y="386.07" width="3.5" height="1.46" fill="#f01a35" stroke="#9a5060" stroke-width="0.6"/>
<rect x="92.24" y="386.07" width="3.5" height="0.20" fill="#f01a35" stroke="#9a5060" stroke-width="0.6"/>
<rect x="97.20" y="384.83" width="3.5" height="1.23" fill="#6ca84e" stroke="#5b7350" stroke-width="0.6"/>
<rect x="102.17" y="385.77" width="3.5" height="0.29" fill="#6ca84e" stroke="#5b7350" stroke-width="0.6"/>
<rect x="107.14" y="384.92" width="3.5" height="1.15" fill="#6ca84e" stroke="#5b7350" stroke-width="0.6"/>
<rect x="112.10" y="384.04" width="3.5" height="2.02" fill="#6ca84e" stroke="#5b7350" stroke-width="0.6"/>
<rect x="117.07" y="385.11" width="3.5" height="0.96" fill="#6ca84e" stroke="#5b7350" stroke-width="0.6"/>
<rect x="122.03" y="385.45" width="3.5" height="0.61" fill="#6ca84e" stroke="#5b7350" stroke-width="0.6"/>
<rect x="127.00" y="385.19" width="3.5" height="0.88" fill="#6ca84e" stroke="#5b7350" stroke-width="0.6"/>
<rect x="131.97" y="385.07" width="3.5" height="0.99" fill="#6ca84e" stroke="#5b7350" stroke-width="0.6"/>
<rect x="136.93" y="385.56" width="3.5" height="0.50" fill="#6ca84e" stroke="#5b7350" stroke-width="0.6"/>
<rect x="141.90" y="385.59" width="3.5" height="0.47" fill="#6ca84e" stroke="#5b7350" stroke-width="0.6"/>
<rect x="146.86" y="386.07" width="3.5" height="2.24" fill="#f01a35" stroke="#9a5060" stroke-width="0.6"/>
<rect x="151.83" y="386.07" width="3.5" height="3.41" fill="#f01a35" stroke="#9a5060" stroke-width="0.6"/>
<rect x="156.80" y="386.07" width="3.5" height="2.56" fill="#f01a35" stroke="#9a5060" stroke-width="0.6"/>
<rect x="161.76" y="386.07" width="3.5" height="2.76" fill="#f01a35" stroke="#9a5060" stroke-width="0.6"/>
<rect x="166.73" y="386.07" width="3.5" height="3.32" fill="#f01a35" stroke="#9a5060" stroke-width="0.6"/>
<rect x="171.69" y="386.07" width="3.5" height="3.45" fill="#f01a35" stroke="#9a5060" stroke-width="0.6"/>
<rect x="176.66" y="386.07" width="3.5" height="1.43" fill="#f01a35" stroke="#9a5060" stroke-width="0.6"/>
<rect x="181.63" y="386.06" width="3.5" height="0.20" fill="#6ca84e" stroke="#5b7350" stroke-width="0.6"/>
<rect x="186.59" y="385.63" width="3.5" height="0.43" fill="#6ca84e" stroke="#5b7350" stroke-width="0.6"/>
<rect x="191.56" y="386.06" width="3.5" height="0.20" fill="#6ca84e" stroke="#5b7350" stroke-width="0.6"/>
<rect x="196.52" y="386.07" width="3.5" height="0.64" fill="#f01a35" stroke="#9a5060" stroke-width="0.6"/>
<rect x="201.49" y="386.07" width="3.5" height="0.96" fill="#f01a35" stroke="#9a5060" stroke-width="0.6"/>
<rect x="206.46" y="386.07" width="3.5" height="0.91" fill="#f01a35" stroke="#9a5060" stroke-width="0.6"/>
<rect x="211.42" y="386.07" width="3.5" height="1.43" fill="#f01a35" stroke="#9a5060" stroke-width="0.6"/>
<rect x="216.39" y="386.07" width="3.5" height="3.76" fill="#f01a35" stroke="#9a5060" stroke-width="0.6"/>
<rect x="221.35" y="386.07" width="3.5" height="4.89" fill="#f01a35" stroke="#9a5060" stroke-width="0.6"/>
<rect x="226.32" y="386.07" width="3.5" height="4.98" fill="#f01a35" stroke="#9a5060" stroke-width="0.6"/>
<rect x="231.29" y="386.07" width="3.5" height="5.20" fill="#f01a35" stroke="#9a5060" stroke-width="0.6"/>
<rect x="236.25" y="386.07" width="3.5" height="5.04" fill="#f01a35" stroke="#9a5060" stroke-width="0.6"/>
<rect x="241.22" y="386.07" width="3.5" height="3.72" fill="#f01a35" stroke="#9a5060" stroke-width="0.6"/>
<rect x="246.18" y="386.07" width="3.5" height="2.59" fill="#f01a35" stroke="#9a5060" stroke-width="0.6"/>
<rect x="251.15" y="386.07" width="3.5" height="2.54" fill="#f01a35" stroke="#9a5060" stroke-width="0.6"/>
<rect x="256.12" y="386.07" width="3.5" height="3.40" fill="#f01a35" stroke="#9a5060" stroke-width="0.6"/>
<rect x="261.08" y="386.07" width="3.5" height="3.50" fill="#f01a35" stroke="#9a5060" stroke-width="0.6"/>
<rect x="266.05" y="386.07" width="3.5" height="2.04" fill="#f01a35" stroke="#9a5060" stroke-width="0.6"/>
<rect x="271.01" y="385.31" width="3.5" height="0.75" fill="#6ca84e" stroke="#5b7350" stroke-width="0.6"/>
<rect x="275.98" y="382.45" width="3.5" height="3.61" fill="#6ca84e" stroke="#5b7350" stroke-width="0.6"/>
<rect x="280.95" y="382.34" width="3.5" height="3.72" fill="#6ca84e" stroke="#5b7350" stroke-width="0.6"/>
<rect x="285.91" y="383.36" width="3.5" height="2.70" fill="#6ca84e" stroke="#5b7350" stroke-width="0.6"/>
<rect x="290.88" y="384.41" width="3.5" height="1.65" fill="#6ca84e" stroke="#5b7350" stroke-width="0.6"/>
<rect x="295.84" y="383.06" width="3.5" height="3.00" fill="#6ca84e" stroke="#5b7350" stroke-width="0.6"/>
<rect x="300.81" y="382.33" width="3.5" height="3.74" fill="#6ca84e" stroke="#5b7350" stroke-width="0.6"/>
<rect x="305.78" y="383.29" width="3.5" height="2.78" fill="#6ca84e" stroke="#5b7350" stroke-width="0.6"/>
<rect x="310.74" y="386.02" width="3.5" height="0.20" fill="#6ca84e" stroke="#5b7350" stroke-width="0.6"/>
<rect x="315.71" y="386.07" width="3.5" height="2.01" fill="#f01a35" stroke="#9a5060" stroke-width="0.6"/>
<rect x="320.67" y="386.07" width="3.5" height="5.85" fill="#f01a35" stroke="#9a5060" stroke-width="0.6"/>
<rect x="325.64" y="386.07" width="3.5" height="6.69" fill="#f01a35" stroke="#9a5060" stroke-width="0.6"/>
<rect x="330.61" y="386.07" width="3.5" height="7.01" fill="#f01a35" stroke="#9a5060" stroke-width="0.6"/>
<rect x="335.57" y="386.07" width="3.5" height="6.99" fill="#f01a35" stroke="#9a5060" stroke-width="0.6"/>
<rect x="340.54" y="386.07" width="3.5" height="8.65" fill="#f01a35" stroke="#9a5060" stroke-width="0.6"/>
<rect x="345.50" y="386.07" width="3.5" height="9.33" fill="#f01a35" stroke="#9a5060" stroke-width="0.6"/>
<rect x="350.47" y="386.07" width="3.5" height="11.52" fill="#f01a35" stroke="#9a5060" stroke-width="0.6"/>
<rect x="355.44" y="386.07" width="3.5" height="13.51" fill="#f01a35" stroke="#9a5060" stroke-width="0.6"/>
<rect x="360.40" y="386.07" width="3.5" height="13.66" fill="#f01a35" stroke="#9a5060" stroke-width="0.6"/>
<rect x="365.37" y="386.07" width="3.5" height="13.26" fill="#f01a35" stroke="#9a5060" stroke-width="0.6"/>
<rect x="370.33" y="386.07" width="3.5" height="12.11" fill="#f01a35" stroke="#9a5060" stroke-width="0.6"/>
<rect x="375.30" y="386.07" width="3.5" height="9.72" fill="#f01a35" stroke="#9a5060" stroke-width="0.6"/>
<rect x="380.27" y="386.07" width="3.5" height="6.43" fill="#f01a35" stroke="#9a5060" stroke-width="0.6"/>
<rect x="385.23" y="386.07" width="3.5" height="2.65" fill="#f01a35" stroke="#9a5060" stroke-width="0.6"/>
<rect x="390.20" y="386.07" width="3.5" height="0.20" fill="#f01a35" stroke="#9a5060" stroke-width="0.6"/>
<rect x="395.16" y="386.07" width="3.5" height="0.28" fill="#f01a35" stroke="#9a5060" stroke-width="0.6"/>
<rect x="400.13" y="385.52" width="3.5" height="0.55" fill="#6ca84e" stroke="#5b7350" stroke-width="0.6"/>
<rect x="405.10" y="384.21" width="3.5" height="1.85" fill="#6ca84e" stroke="#5b7350" stroke-width="0.6"/>
<rect x="410.06" y="385.96" width="3.5" height="0.20" fill="#6ca84e" stroke="#5b7350" stroke-width="0.6"/>
<rect x="415.03" y="386.07" width="3.5" height="0.53" fill="#f01a35" stroke="#9a5060" stroke-width="0.6"/>
<rect x="419.99" y="385.32" width="3.5" height="0.75" fill="#6ca84e" stroke="#5b7350" stroke-width="0.6"/>
<rect x="424.96" y="382.28" width="3.5" height="3.79" fill="#6ca84e" stroke="#5b7350" stroke-width="0.6"/>
<rect x="429.93" y="379.65" width="3.5" height="6.42" fill="#6ca84e" stroke="#5b7350" stroke-width="0.6"/>
<rect x="434.89" y="378.07" width="3.5" height="7.99" fill="#6ca84e" stroke="#5b7350" stroke-width="0.6"/>
<rect x="439.86" y="376.62" width="3.5" height="9.45" fill="#6ca84e" stroke="#5b7350" stroke-width="0.6"/>
<rect x="444.82" y="374.59" width="3.5" height="11.48" fill="#6ca84e" stroke="#5b7350" stroke-width="0.6"/>
<rect x="449.79" y="373.28" width="3.5" height="12.79" fill="#6ca84e" stroke="#5b7350" stroke-width="0.6"/>
<rect x="454.76" y="373.45" width="3.5" height="12.62" fill="#6ca84e" stroke="#5b7350" stroke-width="0.6"/>
<rect x="459.72" y="373.67" width="3.5" height="12.40" fill="#6ca84e" stroke="#5b7350" stroke-width="0.6"/>
<rect x="464.69" y="372.88" width="3.5" height="13.18" fill="#6ca84e" stroke="#5b7350" stroke-width="0.6"/>
<rect x="469.65" y="373.22" width="3.5" height="12.85" fill="#6ca84e" stroke="#5b7350" stroke-width="0.6"/>
<rect x="474.62" y="373.68" width="3.5" height="12.38" fill="#6ca84e" stroke="#5b7350" stroke-width="0.6"/>
<rect x="479.59" y="375.62" width="3.5" height="10.45" fill="#6ca84e" stroke="#5b7350" stroke-width="0.6"/>
<rect x="484.55" y="377.28" width="3.5" height="8.79" fill="#6ca84e" stroke="#5b7350" stroke-width="0.6"/>
<rect x="489.52" y="379.84" width="3.5" height="6.23" fill="#6ca84e" stroke="#5b7350" stroke-width="0.6"/>
<rect x="494.48" y="384.79" width="3.5" height="1.27" fill="#6ca84e" stroke="#5b7350" stroke-width="0.6"/>
<rect x="499.45" y="386.07" width="3.5" height="2.08" fill="#f01a35" stroke="#9a5060" stroke-width="0.6"/>
<rect x="504.42" y="386.07" width="3.5" height="5.27" fill="#f01a35" stroke="#9a5060" stroke-width="0.6"/>
<rect x="509.38" y="386.07" width="3.5" height="9.07" fill="#f01a35" stroke="#9a5060" stroke-width="0.6"/>
<rect x="514.35" y="386.07" width="3.5" height="12.68" fill="#f01a35" stroke="#9a5060" stroke-width="0.6"/>
<rect x="519.31" y="386.07" width="3.5" height="11.75" fill="#f01a35" stroke="#9a5060" stroke-width="0.6"/>
<rect x="524.28" y="386.07" width="3.5" height="11.13" fill="#f01a35" stroke="#9a5060" stroke-width="0.6"/>
<rect x="529.25" y="386.07" width="3.5" height="9.59" fill="#f01a35" stroke="#9a5060" stroke-width="0.6"/>
<rect x="534.21" y="386.07" width="3.5" height="7.74" fill="#f01a35" stroke="#9a5060" stroke-width="0.6"/>
<rect x="539.18" y="386.07" width="3.5" height="5.83" fill="#f01a35" stroke="#9a5060" stroke-width="0.6"/>
<rect x="544.14" y="386.07" width="3.5" height="4.70" fill="#f01a35" stroke="#9a5060" stroke-width="0.6"/>
<rect x="549.11" y="386.07" width="3.5" height="3.48" fill="#f01a35" stroke="#9a5060" stroke-width="0.6"/>
<rect x="554.08" y="386.07" width="3.5" height="2.99" fill="#f01a35" stroke="#9a5060" stroke-width="0.6"/>
<rect x="559.04" y="386.07" width="3.5" height="2.71" fill="#f01a35" stroke="#9a5060" stroke-width="0.6"/>
<rect x="564.01" y="386.07" width="3.5" height="2.75" fill="#f01a35" stroke="#9a5060" stroke-width="0.6"/>
<rect x="568.97" y="386.07" width="3.5" height="2.88" fill="#f01a35" stroke="#9a5060" stroke-width="0.6"/>
<rect x="573.94" y="386.07" width="3.5" height="1.95" fill="#f01a35" stroke="#9a5060" stroke-width="0.6"/>
<rect x="578.91" y="386.07" width="3.5" height="0.93" fill="#f01a35" stroke="#9a5060" stroke-width="0.6"/>
<rect x="583.87" y="384.89" width="3.5" height="1.17" fill="#6ca84e" stroke="#5b7350" stroke-width="0.6"/>
<rect x="588.84" y="383.45" width="3.5" height="2.61" fill="#6ca84e" stroke="#5b7350" stroke-width="0.6"/>
<rect x="593.80" y="381.49" width="3.5" height="4.58" fill="#6ca84e" stroke="#5b7350" stroke-width="0.6"/>
<rect x="598.77" y="381.87" width="3.5" height="4.20" fill="#6ca84e" stroke="#5b7350" stroke-width="0.6"/>
<rect x="603.74" y="382.30" width="3.5" height="3.76" fill="#6ca84e" stroke="#5b7350" stroke-width="0.6"/>
<rect x="608.70" y="382.55" width="3.5" height="3.52" fill="#6ca84e" stroke="#5b7350" stroke-width="0.6"/>
<rect x="613.67" y="383.12" width="3.5" height="2.94" fill="#6ca84e" stroke="#5b7350" stroke-width="0.6"/>
<rect x="618.63" y="383.43" width="3.5" height="2.64" fill="#6ca84e" stroke="#5b7350" stroke-width="0.6"/>
<rect x="623.60" y="383.05" width="3.5" height="3.01" fill="#6ca84e" stroke="#5b7350" stroke-width="0.6"/>
<rect x="628.57" y="383.05" width="3.5" height="3.02" fill="#6ca84e" stroke="#5b7350" stroke-width="0.6"/>
<rect x="633.53" y="382.94" width="3.5" height="3.13" fill="#6ca84e" stroke="#5b7350" stroke-width="0.6"/>
<rect x="638.50" y="383.23" width="3.5" height="2.83" fill="#6ca84e" stroke="#5b7350" stroke-width="0.6"/>
<rect x="643.46" y="383.87" width="3.5" height="2.20" fill="#6ca84e" stroke="#5b7350" stroke-width="0.6"/>
<rect x="648.43" y="382.43" width="3.5" height="3.64" fill="#6ca84e" stroke="#5b7350" stroke-width="0.6"/>
<rect x="653.40" y="381.65" width="3.5" height="4.42" fill="#6ca84e" stroke="#5b7350" stroke-width="0.6"/>
<rect x="658.36" y="380.34" width="3.5" height="5.73" fill="#6ca84e" stroke="#5b7350" stroke-width="0.6"/>
<rect x="663.33" y="378.89" width="3.5" height="7.18" fill="#6ca84e" stroke="#5b7350" stroke-width="0.6"/>
<rect x="668.29" y="374.99" width="3.5" height="11.08" fill="#6ca84e" stroke="#5b7350" stroke-width="0.6"/>
<rect x="673.26" y="372.14" width="3.5" height="13.92" fill="#6ca84e" stroke="#5b7350" stroke-width="0.6"/>
<rect x="678.23" y="373.69" width="3.5" height="12.37" fill="#6ca84e" stroke="#5b7350" stroke-width="0.6"/>
<rect x="683.19" y="377.27" width="3.5" height="8.80" fill="#6ca84e" stroke="#5b7350" stroke-width="0.6"/>
<rect x="688.16" y="380.40" width="3.5" height="5.66" fill="#6ca84e" stroke="#5b7350" stroke-width="0.6"/>
<polyline fill="none" stroke="#1aaee5" stroke-width="1.25" points="2.1,337.4 7.1,338.4 12.0,339.8 17.0,341.4 22.0,342.9 26.9,344.6 31.9,346.2 36.9,347.7 41.8,349.3 46.8,351.2 51.8,353.4 56.7,355.6 61.7,357.2 66.7,358.2 71.6,359.1 76.6,359.9 81.6,360.5 86.5,360.8 91.5,360.9 96.5,360.6 101.4,360.5 106.4,360.2 111.4,359.7 116.3,359.5 121.3,359.3 126.2,359.1 131.2,358.8 136.2,358.7 141.1,358.6 146.1,359.1 151.1,360.0 156.0,360.6 161.0,361.3 166.0,362.2 170.9,363.0 175.9,363.4 180.9,363.4 185.8,363.3 190.8,363.3 195.8,363.4 200.7,363.7 205.7,363.9 210.7,364.3 215.6,365.2 220.6,366.4 225.6,367.7 230.5,369.0 235.5,370.2 240.5,371.1 245.4,371.8 250.4,372.4 255.4,373.3 260.3,374.2 265.3,374.7 270.3,374.5 275.2,373.6 280.2,372.6 285.2,372.0 290.1,371.6 295.1,370.8 300.1,369.9 305.0,369.2 310.0,369.2 315.0,369.7 319.9,371.1 324.9,372.8 329.9,374.6 334.8,376.3 339.8,378.5 344.8,380.8 349.7,383.7 354.7,387.1 359.7,390.5 364.6,393.8 369.6,396.8 374.6,399.2 379.5,400.9 384.5,401.5 389.4,401.6 394.4,401.6 399.4,401.5 404.3,401.0 409.3,401.0 414.3,401.1 419.2,401.0 424.2,400.0 429.2,398.4 434.1,396.4 439.1,394.0 444.1,391.2 449.0,388.0 454.0,384.8 459.0,381.7 463.9,378.4 468.9,375.2 473.9,372.1 478.8,369.5 483.8,367.3 488.8,365.8 493.7,365.4 498.7,366.0 503.7,367.3 508.6,369.5 513.6,372.7 518.6,375.6 523.5,378.4 528.5,380.8 533.5,382.8 538.4,384.2 543.4,385.4 548.4,386.3 553.3,387.0 558.3,387.7 563.3,388.4 568.2,389.1 573.2,389.6 578.2,389.8 583.1,389.5 588.1,388.9 593.1,387.7 598.0,386.7 603.0,385.7 608.0,384.9 612.9,384.1 617.9,383.5 622.9,382.7 627.8,382.0 632.8,381.2 637.7,380.5 642.7,379.9 647.7,379.0 652.6,377.9 657.6,376.5 662.6,374.7 667.5,371.9 672.5,368.4 677.5,365.3 682.4,363.1 687.4,361.7"/>
<polyline fill="none" stroke="#0c2a6b" stroke-width="1.5" stroke-linejoin="round" points="2.1,339.2 7.1,342.3 12.0,345.2 17.0,347.8 22.0,349.1 26.9,351.4 31.9,352.5 36.9,353.7 41.8,355.7 46.8,359.0 51.8,362.3 56.7,364.1 61.7,363.5 66.7,362.5 71.6,362.4 76.6,363.3 81.6,362.8 86.5,362.3 91.5,360.9 96.5,359.3 101.4,360.2 106.4,359.1 111.4,357.7 116.3,358.5 121.3,358.7 126.2,358.2 131.2,357.8 136.2,358.2 141.1,358.1 146.1,361.4 151.1,363.4 156.0,363.2 161.0,364.1 166.0,365.5 170.9,366.5 175.9,364.8 180.9,363.4 185.8,362.8 190.8,363.3 195.8,364.1 200.7,364.6 205.7,364.8 210.7,365.7 215.6,369.0 220.6,371.3 225.6,372.6 230.5,374.2 235.5,375.3 240.5,374.9 245.4,374.4 250.4,375.0 255.4,376.7 260.3,377.7 265.3,376.7 270.3,373.7 275.2,370.0 280.2,368.9 285.2,369.3 290.1,369.9 295.1,367.8 300.1,366.1 305.0,366.4 310.0,369.1 315.0,371.7 319.9,377.0 324.9,379.5 329.9,381.6 334.8,383.3 339.8,387.1 344.8,390.1 349.7,395.2 354.7,400.6 359.7,404.1 364.6,407.0 369.6,408.9 374.6,409.0 379.5,407.3 384.5,404.2 389.4,401.8 394.4,401.9 399.4,401.0 404.3,399.2 409.3,400.9 414.3,401.7 419.2,400.2 424.2,396.2 429.2,392.0 434.1,388.4 439.1,384.6 444.1,379.7 449.0,375.2 454.0,372.2 459.0,369.3 463.9,365.2 468.9,362.4 473.9,359.7 478.8,359.1 483.8,358.5 488.8,359.5 493.7,364.2 498.7,368.0 503.7,372.5 508.6,378.6 513.6,385.4 518.6,387.4 523.5,389.6 528.5,390.4 533.5,390.5 538.4,390.0 543.4,390.1 548.4,389.8 553.3,390.0 558.3,390.4 563.3,391.1 568.2,392.0 573.2,391.5 578.2,390.7 583.1,388.4 588.1,386.3 593.1,383.2 598.0,382.5 603.0,382.0 608.0,381.3 612.9,381.2 617.9,380.8 622.9,379.7 627.8,378.9 632.8,378.0 637.7,377.6 642.7,377.7 647.7,375.4 652.6,373.5 657.6,370.7 662.6,367.5 667.5,360.8 672.5,354.5 677.5,353.0 682.4,354.3 687.4,356.1"/>
</g>
<text x="3" y="427.7" font-size="11" fill="#111" style="stroke:#111;stroke-width:0.25">Jan 24</text>
<text x="107" y="427.7" font-size="11" fill="#111" style="stroke:#111;stroke-width:0.25">Feb 24</text>
<text x="206" y="427.7" font-size="11" fill="#111" style="stroke:#111;stroke-width:0.25">Mrz 24</text>
<text x="305.5" y="427.7" font-size="11" fill="#111" style="stroke:#111;stroke-width:0.25">Apr 24</text>
<text x="414.5" y="427.7" font-size="11" fill="#111" style="stroke:#111;stroke-width:0.25">Mai 24</text>
<text x="524" y="427.7" font-size="11" fill="#111" style="stroke:#111;stroke-width:0.25">Jun 24</text>
<text x="618.5" y="427.7" font-size="11" fill="#111" style="stroke:#111;stroke-width:0.25">Jul 24</text>
</svg></body></html>
